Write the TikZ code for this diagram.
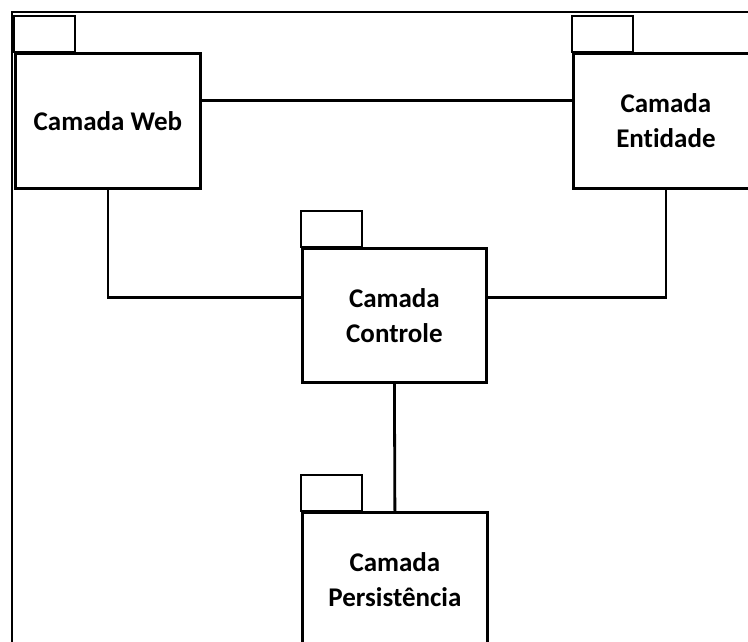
\documentclass[tikz,border=0pt]{standalone}
\usepackage{fontspec}
\setmainfont[Ligatures=NoCommon]{Carlito}
\tikzset{
  pacote/.style={draw, line width=2.8pt, minimum width=185pt, minimum height=135pt,
    inner sep=0pt, align=center, font=\fontsize{27}{35}\selectfont\bfseries},
  aba/.style={draw, line width=2.8pt},
  ligacao/.style={line width=2.8pt}
}
\begin{document}
\begin{tikzpicture}[x=1pt,y=1pt]
    \useasboundingbox (0,0) rectangle (748,641);
    \clip (0,0) rectangle (748,641);
    \draw[line width=2.2pt] (12,-10) |- (760,629);
    % pacotes
    \node[pacote, anchor=north west] (web) at (14,589) {Camada Web};
    \node[pacote, anchor=north west] (entidade) at (572,589) {Camada\\Entidade};
    \node[pacote, anchor=north west, minimum width=184pt, minimum height=134pt] (controle) at (301,394) {Camada\\Controle};
    \node[pacote, anchor=north west] (persist) at (301,130) {Camada\\Persistência};
    \foreach \p in {web,entidade,controle,persist} {
    \draw[aba] (\p.north west) rectangle ++(61,36);
}
    % ligacoes
    \draw[ligacao] ([yshift=20pt]web.east) -- ([yshift=20pt]entidade.west);
    \draw[ligacao] (web.south) |- ([yshift=18pt]controle.west);
    \draw[ligacao] (entidade.south) |- ([yshift=18pt]controle.east);
    \draw[ligacao] (controle.south) -- (persist.north);
\end{tikzpicture}
\end{document}
